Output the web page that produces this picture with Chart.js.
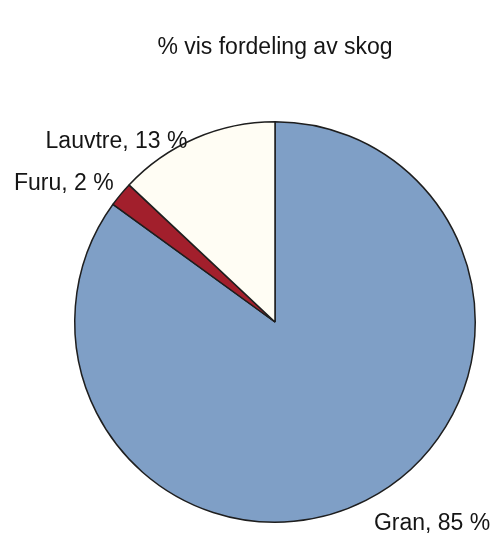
<!DOCTYPE html>
<html>
<head>
<meta charset="utf-8">
<script src="https://cdn.jsdelivr.net/npm/chart.js@4"></script>
<style>
  html, body { margin: 0; padding: 0; background: #fff; }
  #wrap { width: 491px; height: 535px; }
</style>
</head>
<body>
<div id="wrap"><canvas id="skogChart" width="491" height="535"></canvas></div>
<script>
const chartTitle = '% vis fordeling av skog';
const categories = ['Gran', 'Furu', 'Lauvtre'];
const shares = [85, 2, 13];
const sliceColors = ['#7f9fc6', '#a21f2c', '#fffdf4'];

// label offsets from the slice's outer mid point (placement only)
const labelOffsets = [
    { dx: 8, dy: 23, align: 'left' },
    { dx: -7, dy: -11, align: 'right' },
    { dx: -8, dy: 3, align: 'right' }
];

const sliceLabels = {
    id: 'sliceLabels',
    afterDraw(chart) {
        const ctx = chart.ctx;
        const meta = chart.getDatasetMeta(0);
        ctx.save();
        ctx.font = '23px "Liberation Sans", Arial, sans-serif';
        ctx.fillStyle = '#151515';
        ctx.textBaseline = 'middle';
        meta.data.forEach((arc, i) => {
            const mid = (arc.startAngle + arc.endAngle) / 2;
            const x = arc.x + Math.cos(mid) * arc.outerRadius;
            const y = arc.y + Math.sin(mid) * arc.outerRadius;
            const o = labelOffsets[i];
            ctx.textAlign = o.align;
            ctx.fillText(categories[i] + ', ' + shares[i] + ' %', x + o.dx, y + o.dy);
        });
        ctx.textAlign = 'center';
        ctx.fillText(chartTitle, 275, 48);
        ctx.restore();
    }
};

new Chart(document.getElementById('skogChart'), {
    type: 'pie',
    data: {
        labels: categories,
        datasets: [{
            data: shares,
            backgroundColor: sliceColors,
            borderColor: '#1e1e1e',
            borderWidth: 1.5
        }]
    },
    options: {
        responsive: false,
        animation: false,
        layout: {
            padding: { left: 74, right: 15, top: 121, bottom: 12 }
        },
        plugins: {
            legend: { display: false },
            tooltip: { enabled: false },
            title: { display: false }
        }
    },
    plugins: [sliceLabels]
});
</script>
</body>
</html>
